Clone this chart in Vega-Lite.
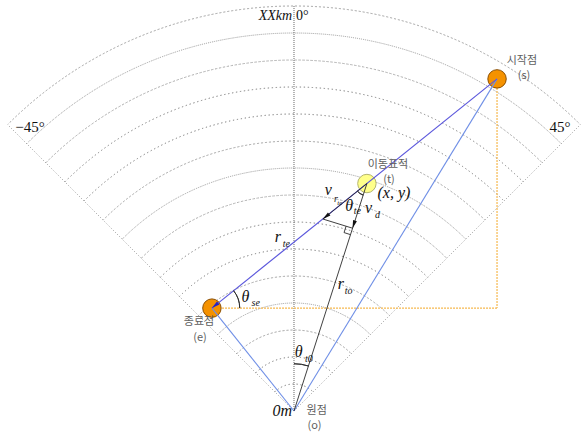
{
  "$schema": "https://vega.github.io/schema/vega-lite/v6.json",
  "width": 583,
  "height": 433,
  "autosize": {"type": "fit", "contains": "padding"},
  "padding": 0,
  "background": "white",
  "config": {"view": {"stroke": null}},
  "datasets": {
    "rings": [
      {"x": 0, "y": 0, "r": 1, "a0": -45, "a1": 45},
      {"x": 0, "y": 0, "r": 2, "a0": -45, "a1": 45},
      {"x": 0, "y": 0, "r": 3, "a0": -45, "a1": 45},
      {"x": 0, "y": 0, "r": 4, "a0": -45, "a1": 45},
      {"x": 0, "y": 0, "r": 5, "a0": -45, "a1": 45},
      {"x": 0, "y": 0, "r": 6, "a0": -45, "a1": 45},
      {"x": 0, "y": 0, "r": 7, "a0": -45, "a1": 45},
      {"x": 0, "y": 0, "r": 8, "a0": -45, "a1": 45},
      {"x": 0, "y": 0, "r": 9, "a0": -45, "a1": 45},
      {"x": 0, "y": 0, "r": 10, "a0": -45, "a1": 45},
      {"x": 0, "y": 0, "r": 11, "a0": -45, "a1": 45},
      {"x": 0, "y": 0, "r": 12, "a0": -45, "a1": 45},
      {"x": 0, "y": 0, "r": 13, "a0": -45, "a1": 45},
      {"x": 0, "y": 0, "r": 14, "a0": -45, "a1": 45},
      {"x": 0, "y": 0, "r": 15, "a0": -45, "a1": 45}
    ],
    "edges": [
      {"x": 0, "y": 0, "x2": -10.607, "y2": 10.607},
      {"x": 0, "y": 0, "x2": 10.607, "y2": 10.607}
    ],
    "bearing0": [{"x": 0, "y": 0, "x2": 0, "y2": 15}],
    "projection": [
      {"x": 7.52, "y": 12.3, "x2": 7.52, "y2": 3.81},
      {"x": 7.52, "y": 3.81, "x2": -3.04, "y2": 3.81}
    ],
    "toOrigin": [
      {"x": 7.52, "y": 12.3, "x2": 0, "y2": 0},
      {"x": -3.04, "y": 3.81, "x2": 0, "y2": 0}
    ],
    "track": [{"x": 7.52, "y": 12.3, "x2": -3.04, "y2": 3.81}],
    "vectors": [
      {"x": 2.7, "y": 8.425, "x2": 0, "y2": 0},
      {"x": 2.7, "y": 8.425, "x2": 1.07, "y2": 7.11},
      {"x": 1.07, "y": 7.11, "x2": 2.168, "y2": 6.77},
      {"x": 1.93, "y": 6.846, "x2": 1.854, "y2": 6.608},
      {"x": 1.854, "y": 6.608, "x2": 2.092, "y2": 6.532}
    ],
    "endpoints": [
      {"x": 7.52, "y": 12.3},
      {"x": -3.04, "y": 3.81}
    ],
    "target": [{"x": 2.7, "y": 8.425}],
    "angles": [
      {"x": 2.7, "y": 8.425, "r": 0.45, "a0": -162.2, "a1": -128.8},
      {"x": -3.04, "y": 3.81, "r": 1.03, "a0": 51.2, "a1": 90},
      {"x": 0, "y": 0, "r": 1.75, "a0": 0, "a1": 17.8}
    ],
    "tipRte": [{"x": 1.07, "y": 7.11}],
    "tipD": [{"x": 2.168, "y": 6.77}],
    "tipE": [{"x": -3.04, "y": 3.81}],
    "koLabels": [
      {"x": 8.44, "y": 12.97, "text": "시작점"},
      {"x": 8.52, "y": 12.4, "text": "(s)"},
      {"x": 3.48, "y": 9.12, "text": "이동표적"},
      {"x": 3.52, "y": 8.57, "text": "(t)"},
      {"x": -3.52, "y": 3.3, "text": "종료점"},
      {"x": -3.48, "y": 2.72, "text": "(e)"},
      {"x": 0.84, "y": 0.0, "text": "원점"},
      {"x": 0.76, "y": -0.56, "text": "(o)"}
    ],
    "degLabels": [
      {"x": -9.78, "y": 10.52, "text": "−45°"},
      {"x": 9.85, "y": 10.52, "text": "45°"}
    ],
    "zeroDeg": [{"x": 0.07, "y": 14.63, "text": "0°"}],
    "rangeLabel": [{"x": -0.07, "y": 14.63, "text": "XXkm"}],
    "symbols": [
      {"x": 1.27, "y": 8.17, "text": "v"},
      {"x": 2.04, "y": 7.6, "text": "θ"},
      {"x": 2.76, "y": 7.5, "text": "v"},
      {"x": -0.6, "y": 6.43, "text": "r"},
      {"x": 1.74, "y": 4.69, "text": "r"},
      {"x": -1.8, "y": 4.24, "text": "θ"},
      {"x": 0.17, "y": 2.17, "text": "θ"},
      {"x": 3.7, "y": 8.07, "text": "(x, y)"},
      {"x": -0.43, "y": 0.0, "text": "0m"}
    ],
    "subscripts": [
      {"x": 1.55, "y": 7.86, "text": "r"},
      {"x": 2.35, "y": 7.39, "text": "te"},
      {"x": 3.09, "y": 7.25, "text": "d"},
      {"x": -0.28, "y": 6.19, "text": "te"},
      {"x": 2.02, "y": 4.45, "text": "to"},
      {"x": -1.42, "y": 3.99, "text": "se"},
      {"x": 0.55, "y": 1.93, "text": "t0"}
    ],
    "subsub": [{"x": 1.7, "y": 7.7, "text": "te"}]
  },
  "encoding": {
    "x": {
      "field": "x",
      "type": "quantitative",
      "scale": {"domain": [-10.889, 10.704], "nice": false, "zero": false},
      "axis": null
    },
    "y": {
      "field": "y",
      "type": "quantitative",
      "scale": {"domain": [-0.815, 15.222], "nice": false, "zero": false},
      "axis": null
    }
  },
  "layer": [
    {
      "data": {"name": "rings"},
      "mark": {"type": "arc", "filled": false, "stroke": "#8e8e8e", "strokeWidth": 0.9, "strokeDash": [1, 3]},
      "encoding": {
        "theta": {"field": "a0", "type": "quantitative", "stack": null,
          "scale": {"type": "linear", "domain": [-180, 180], "range": [-3.14159265, 3.14159265], "zero": false}},
        "theta2": {"field": "a1"},
        "radius": {"field": "r", "type": "quantitative",
          "scale": {"type": "linear", "domain": [0, 15], "range": [0, 405], "zero": true}},
        "radius2": {"field": "r"}
      }
    },
    {
      "data": {"name": "edges"},
      "mark": {"type": "rule", "stroke": "#8e8e8e", "strokeWidth": 0.9, "strokeDash": [1, 2]},
      "encoding": {"x2": {"field": "x2"}, "y2": {"field": "y2"}}
    },
    {
      "data": {"name": "bearing0"},
      "mark": {"type": "rule", "stroke": "#666666", "strokeWidth": 1, "strokeDash": [1, 1]},
      "encoding": {"x2": {"field": "x2"}, "y2": {"field": "y2"}}
    },
    {
      "data": {"name": "projection"},
      "mark": {"type": "rule", "stroke": "#f6b84e", "strokeWidth": 1.2, "strokeDash": [2, 1]},
      "encoding": {"x2": {"field": "x2"}, "y2": {"field": "y2"}}
    },
    {
      "data": {"name": "endpoints"},
      "mark": {"type": "point", "shape": "circle", "filled": true, "size": 340, "fill": "#f59200", "stroke": "#8a4d00", "strokeWidth": 1, "opacity": 1}
    },
    {
      "data": {"name": "target"},
      "mark": {"type": "point", "shape": "circle", "filled": true, "size": 340, "fill": "#ffff8a", "stroke": "#b4b46e", "strokeWidth": 1, "opacity": 1}
    },
    {
      "data": {"name": "toOrigin"},
      "mark": {"type": "rule", "stroke": "#6f8fe6", "strokeWidth": 1.1},
      "encoding": {"x2": {"field": "x2"}, "y2": {"field": "y2"}}
    },
    {
      "data": {"name": "track"},
      "mark": {"type": "rule", "stroke": "#5c58dc", "strokeWidth": 1.2},
      "encoding": {"x2": {"field": "x2"}, "y2": {"field": "y2"}}
    },
    {
      "data": {"name": "vectors"},
      "mark": {"type": "rule", "stroke": "#2a2a2a", "strokeWidth": 0.9},
      "encoding": {"x2": {"field": "x2"}, "y2": {"field": "y2"}}
    },
    {
      "data": {"name": "angles"},
      "mark": {"type": "arc", "filled": false, "stroke": "#2a2a2a", "strokeWidth": 0.9},
      "encoding": {
        "theta": {"field": "a0", "type": "quantitative", "stack": null},
        "theta2": {"field": "a1"},
        "radius": {"field": "r", "type": "quantitative"},
        "radius2": {"field": "r"}
      }
    },
    {
      "data": {"name": "tipRte"},
      "mark": {"type": "point", "shape": "M0,0L0.42,1.7L-0.42,1.7Z", "filled": true, "size": 90, "fill": "#111", "strokeWidth": 0, "opacity": 1, "angle": 231.2}
    },
    {
      "data": {"name": "tipD"},
      "mark": {"type": "point", "shape": "M0,0L0.42,1.7L-0.42,1.7Z", "filled": true, "size": 90, "fill": "#111", "strokeWidth": 0, "opacity": 1, "angle": 197.8}
    },
    {
      "data": {"name": "tipE"},
      "mark": {"type": "point", "shape": "M0,0L0.42,1.7L-0.42,1.7Z", "filled": true, "size": 90, "fill": "#2424c8", "strokeWidth": 0, "opacity": 1, "angle": 231.2}
    },
    {
      "data": {"name": "koLabels"},
      "mark": {"type": "text", "font": "Noto Sans CJK KR", "fontSize": 11, "fill": "#5e5e5e", "align": "center", "baseline": "middle"},
      "encoding": {"text": {"field": "text"}}
    },
    {
      "data": {"name": "degLabels"},
      "mark": {"type": "text", "font": "Liberation Serif", "fontSize": 15, "fill": "#111", "align": "center", "baseline": "middle"},
      "encoding": {"text": {"field": "text"}}
    },
    {
      "data": {"name": "zeroDeg"},
      "mark": {"type": "text", "font": "Liberation Serif", "fontSize": 14, "fill": "#111", "align": "left", "baseline": "middle"},
      "encoding": {"text": {"field": "text"}}
    },
    {
      "data": {"name": "rangeLabel"},
      "mark": {"type": "text", "font": "Liberation Serif", "fontStyle": "italic", "fontSize": 14, "fill": "#111", "align": "right", "baseline": "middle"},
      "encoding": {"text": {"field": "text"}}
    },
    {
      "data": {"name": "symbols"},
      "mark": {"type": "text", "font": "Liberation Serif", "fontStyle": "italic", "fontSize": 16, "fill": "#111", "align": "center", "baseline": "middle"},
      "encoding": {"text": {"field": "text"}}
    },
    {
      "data": {"name": "subscripts"},
      "mark": {"type": "text", "font": "Liberation Serif", "fontStyle": "italic", "fontSize": 10, "fill": "#111", "align": "center", "baseline": "middle"},
      "encoding": {"text": {"field": "text"}}
    },
    {
      "data": {"name": "subsub"},
      "mark": {"type": "text", "font": "Liberation Serif", "fontStyle": "italic", "fontSize": 7, "fill": "#111", "align": "center", "baseline": "middle"},
      "encoding": {"text": {"field": "text"}}
    }
  ]
}
